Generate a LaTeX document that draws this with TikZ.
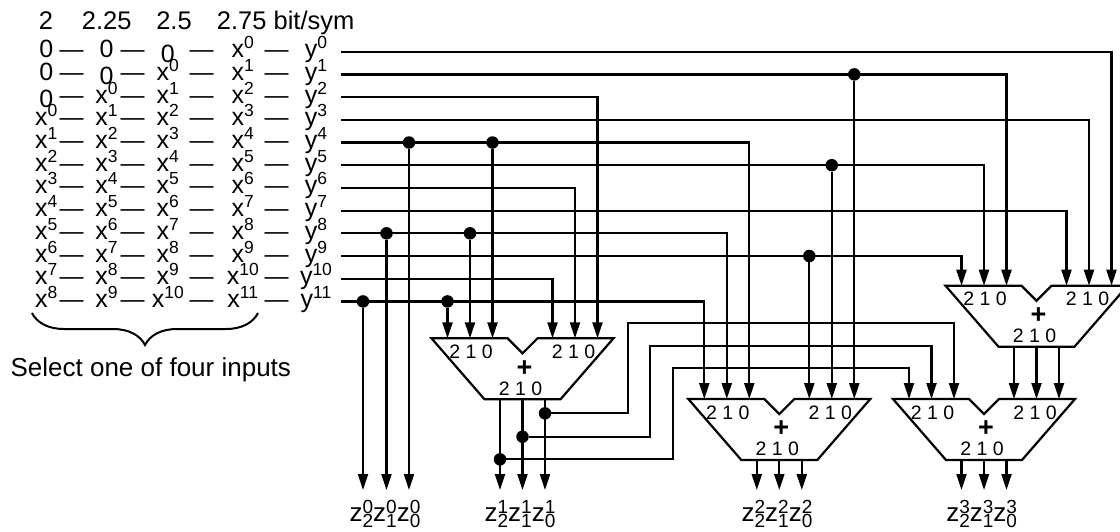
\documentclass[tikz,border=0pt]{standalone}
\usepackage{fontspec}
\setmainfont{Liberation Sans}
\usetikzlibrary{arrows.meta, calc, decorations.pathreplacing}

% small raised / lowered indices
\newcommand{\upidx}[1]{\raisebox{9pt}{\fontsize{17.5}{17.5}\selectfont #1}}
\newcommand{\zz}[2]{z\rlap{\raisebox{8.5pt}{\fontsize{19}{19}\selectfont #2}}\raisebox{-5.5pt}{\fontsize{19}{19}\selectfont #1}}

\tikzset{
   wire/.style={line width=2.2pt},
   arr/.style={-{Triangle[length=16pt, width=10pt]}},
   dot/.style={circle, fill, inner sep=0pt, minimum size=12.5pt},
   cell/.style={anchor=base, inner sep=0pt, font=\fontsize{25}{25}\selectfont},
   dashmark/.style={anchor=base, inner sep=0pt, font=\fontsize{24}{24}\selectfont},
   head/.style={anchor=base, inner sep=0pt, font=\fontsize{25.5}{25.5}\selectfont},
   digits/.style={inner sep=0pt, font=\fontsize{19.5}{19.5}\selectfont},
   adder/.pic={
      \draw[wire, line join=miter] (-91,0) -- (-15,0) -- (0,15) -- (15,0) -- (91,0)
         -- (38,61) -- (-38,61) -- cycle;
      \node[digits] (-lt) at (-51.5,13.4) {2 1 0};
      \node[digits] (-rt) at (51,13.4) {2 1 0};
      \node[digits] (-ot) at (-2,50) {2 1 0};
      \node[inner sep=0pt, font=\fontsize{27}{27}\selectfont\bfseries] (-plus) at (2,30) {+};
      \coordinate (-l2) at (-75,0);
      \coordinate (-l1) at (-52.5,0);
      \coordinate (-l0) at (-30,0);
      \coordinate (-r2) at (30,0);
      \coordinate (-r1) at (52.5,0);
      \coordinate (-r0) at (75,0);
      \coordinate (-o2) at (-22.5,61);
      \coordinate (-o1) at (0,61);
      \coordinate (-o0) at (22.5,61);
   }
}

\begin{document}
\begin{tikzpicture}[x=1pt, y=-1pt, font=\fontsize{26}{26}\selectfont]
   \useasboundingbox (0,0) rectangle (1120,531);

   % header
   \node[head] (h0) at (46,29.3) {2};
   \node[head] (h1) at (106.7,29.3) {2.25};
   \node[head] (h2) at (174,29.3) {2.5};
   \node[head, anchor=base west] (h3) at (216.7,29.3) {2.75 bit/sym};

   % input table
   \foreach \k in {0,...,11} {
      \pgfmathsetmacro\yw{51.7+22.7*\k}
      \coordinate (w\k) at (341,\yw);
      \foreach \c/\xc in {0/46.3,1/106.5,2/167.8,3/242.8} {
         \pgfmathtruncatemacro\v{\k-3+\c}
         \ifnum\v<0
            \ifnum\v=-1
               \node[cell, yshift=-4.5pt] (c\c-\k) at (\xc,{\yw+6}) {0};
            \else
               \node[cell] (c\c-\k) at (\xc,{\yw+6}) {0};
            \fi
         \else
            \node[cell] (c\c-\k) at (\xc,{\yw+6}) {x\upidx{\v}};
         \fi
      }
      \node[cell] (c4-\k) at (316,{\yw+6}) {y\upidx{\k}};
      \foreach \c/\xd in {0/71.7,1/132.5,2/201.7,3/276.7}
         \node[dashmark] (d\c-\k) at (\xd,{\yw+6}) {---};
   }

   \draw[decorate, decoration={brace, mirror, amplitude=32pt}, line width=2pt]
      (32,313) -- (258,313);
   \node[anchor=base, inner sep=0pt] (sel) at (150.8,376.7) {Select one of four inputs};

   % adders
   \pic (A1) at (522.5,338.3) {adder};
   \pic (A2) at (779.3,399) {adder};
   \pic (A3) at (984,399) {adder};
   \pic (A4) at (1036.5,285.7) {adder};

   \coordinate (zbot) at (0,490);
   \coordinate (Z0-2) at (363,490);
   \coordinate (Z0-1) at (386.5,490);
   \coordinate (Z0-0) at (409,490);

   % rows into the adders
   \foreach \k/\t in {0/A4-r0, 1/A4-l0, 2/A1-r0, 3/A4-r1, 4/A2-l0, 5/A4-l1,
                      6/A1-r1, 7/A4-r2, 8/A2-l1, 9/A4-l2, 10/A1-r2, 11/A2-l2}
      \draw[wire, arr] (w\k) -| (\t);

   % taps
   \foreach \k/\t in {1/A2-r0, 5/A2-r1, 9/A2-r2, 4/A1-l0, 8/A1-l1, 11/A1-l2,
                      4/Z0-0, 8/Z0-1, 11/Z0-2} {
      \node[dot] (j\k-\t) at (\t |- w\k) {};
      \draw[wire, arr] (j\k-\t) -- (\t);
   }

   % outputs
   \foreach \a in {A1,A2,A3}
      \foreach \b in {0,1,2}
         \draw[wire, arr] (\a-o\b) -- (\a-o\b |- zbot);
   \foreach \b in {0,1,2}
      \draw[wire, arr] (A4-o\b) -- (A3-r\b);

   % first sum fed to the last adder
   \node[dot] (f0) at (A1-o0 |- 0,413.3) {};
   \node[dot] (f1) at (A1-o1 |- 0,436.7) {};
   \node[dot] (f2) at (A1-o2 |- 0,459.3) {};
   \draw[wire, arr] (f0) -| (628.3,322.7) -| (A3-l0);
   \draw[wire, arr] (f1) -| (650,346) -| (A3-l1);
   \draw[wire, arr] (f2) -| (673.3,368.3) -| (A3-l2);

   % result labels
   \node[anchor=base, inner sep=0pt] (z0) at (385,521.7) {\zz{2}{0}\zz{1}{0}\zz{0}{0}};
   \node[anchor=base, inner sep=0pt] (z1) at (520,521.7) {\zz{2}{1}\zz{1}{1}\zz{0}{1}};
   \node[anchor=base, inner sep=0pt] (z2) at (777,521.7) {\zz{2}{2}\zz{1}{2}\zz{0}{2}};
   \node[anchor=base, inner sep=0pt] (z3) at (981.7,521.7) {\zz{2}{3}\zz{1}{3}\zz{0}{3}};
\end{tikzpicture}
\end{document}
